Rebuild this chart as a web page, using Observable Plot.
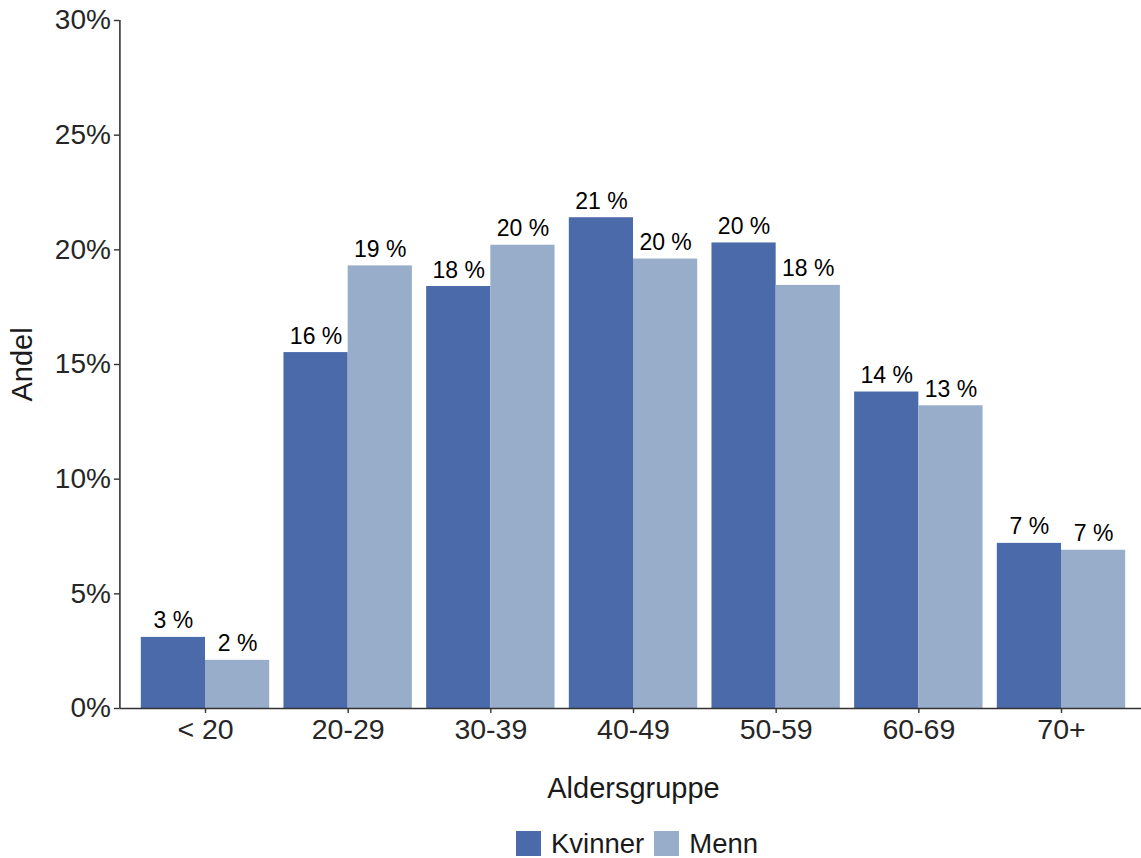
<!DOCTYPE html>
<html>
<head>
<meta charset="utf-8">
<script src="https://cdn.jsdelivr.net/npm/d3@7"></script>
<script src="https://cdn.jsdelivr.net/npm/@observablehq/plot@0.6"></script>
<style>
  html, body { margin: 0; padding: 0; background: #fff; }
  body { width: 1141px; font-family: "Liberation Sans", Arial, sans-serif; }
  #legend {
    display: flex; justify-content: center; align-items: flex-start;
    height: 50px; padding-top: 23px; padding-left: 133px; box-sizing: content-box;
    font-size: 27.5px; line-height: 25px; color: #1a1a1a;
  }
  .item { display: flex; align-items: center; margin: 0 5px; }
  .swatch { width: 25px; height: 25px; margin-right: 10px; }
</style>
</head>
<body>
<div id="chart"></div>
<div id="legend"></div>
<script>
// Age groups and share (%) of each sex per group
const categories = ["< 20", "20-29", "30-39", "40-49", "50-59", "60-69", "70+"];
const kvinner = [3.1, 15.52, 18.4, 21.4, 20.3, 13.8, 7.2];
const menn = [2.1, 19.3, 20.2, 19.6, 18.45, 13.2, 6.9];
const series = ["Kvinner", "Menn"];
const colors = ["#4a6aa9", "#98adca"];
const yTicks = [0, 5, 10, 15, 20, 25, 30];

// Long table: one row per bar, dodged inside its age group
const dodge = 0.45;
const rows = categories.flatMap((c, i) => [
  {cat: c, i, sex: series[0], value: kvinner[i], x1: i - dodge, x2: i},
  {cat: c, i, sex: series[1], value: menn[i], x1: i, x2: i + dodge}
]);
const xDomain = [-0.6, categories.length - 1 + 0.6];

const axisColor = "#333";
const chart = Plot.plot({
  width: 1141,
  height: 808,
  marginTop: 20,
  marginBottom: 100,
  marginLeft: 119.4,
  marginRight: -5.6,
  style: {fontFamily: "'Liberation Sans', Arial, sans-serif", background: "#fff"},
  x: {domain: xDomain},
  y: {domain: [0, 30]},
  color: {domain: series, range: colors},
  marks: [
    Plot.rectY(rows, {x1: "x1", x2: "x2", y: "value", fill: "sex"}),
    Plot.text(rows, {
      x: d => (d.x1 + d.x2) / 2, y: "value",
      text: d => `${Math.round(d.value)} %`,
      lineAnchor: "bottom", dy: -9, fontSize: 23, fill: "#000"
    }),
    Plot.axisY({
      ticks: yTicks, tickFormat: d => `${d}%`, tickSize: 5.5, tickPadding: 3.5,
      fontSize: 28, color: "#262626", stroke: axisColor, strokeWidth: 1.4, label: null
    }),
    Plot.axisX({
      ticks: categories.map((_, i) => i), tickFormat: i => categories[i],
      tickSize: 5, tickPadding: 5, fontSize: 28.5, color: "#262626",
      stroke: axisColor, strokeWidth: 1.4, label: null
    }),
    Plot.ruleX([xDomain[0]], {stroke: axisColor, strokeWidth: 1.6}),
    Plot.ruleY([0], {stroke: axisColor, strokeWidth: 1.6}),
    Plot.text(["Andel"], {
      frameAnchor: "left", rotate: -90, dx: -97, textAnchor: "middle",
      fontSize: 29, fill: "#1a1a1a"
    }),
    Plot.text(["Aldersgruppe"], {
      frameAnchor: "bottom", dy: 89.5, fontSize: 29, fill: "#1a1a1a"
    })
  ]
});
document.getElementById("chart").append(chart);

// Legend below the chart
const legend = document.getElementById("legend");
series.forEach((s, k) => {
  const item = document.createElement("div");
  item.className = "item";
  const sw = document.createElement("div");
  sw.className = "swatch";
  sw.style.background = colors[k];
  const lab = document.createElement("span");
  lab.textContent = s;
  item.append(sw, lab);
  legend.append(item);
});
</script>
</body>
</html>
